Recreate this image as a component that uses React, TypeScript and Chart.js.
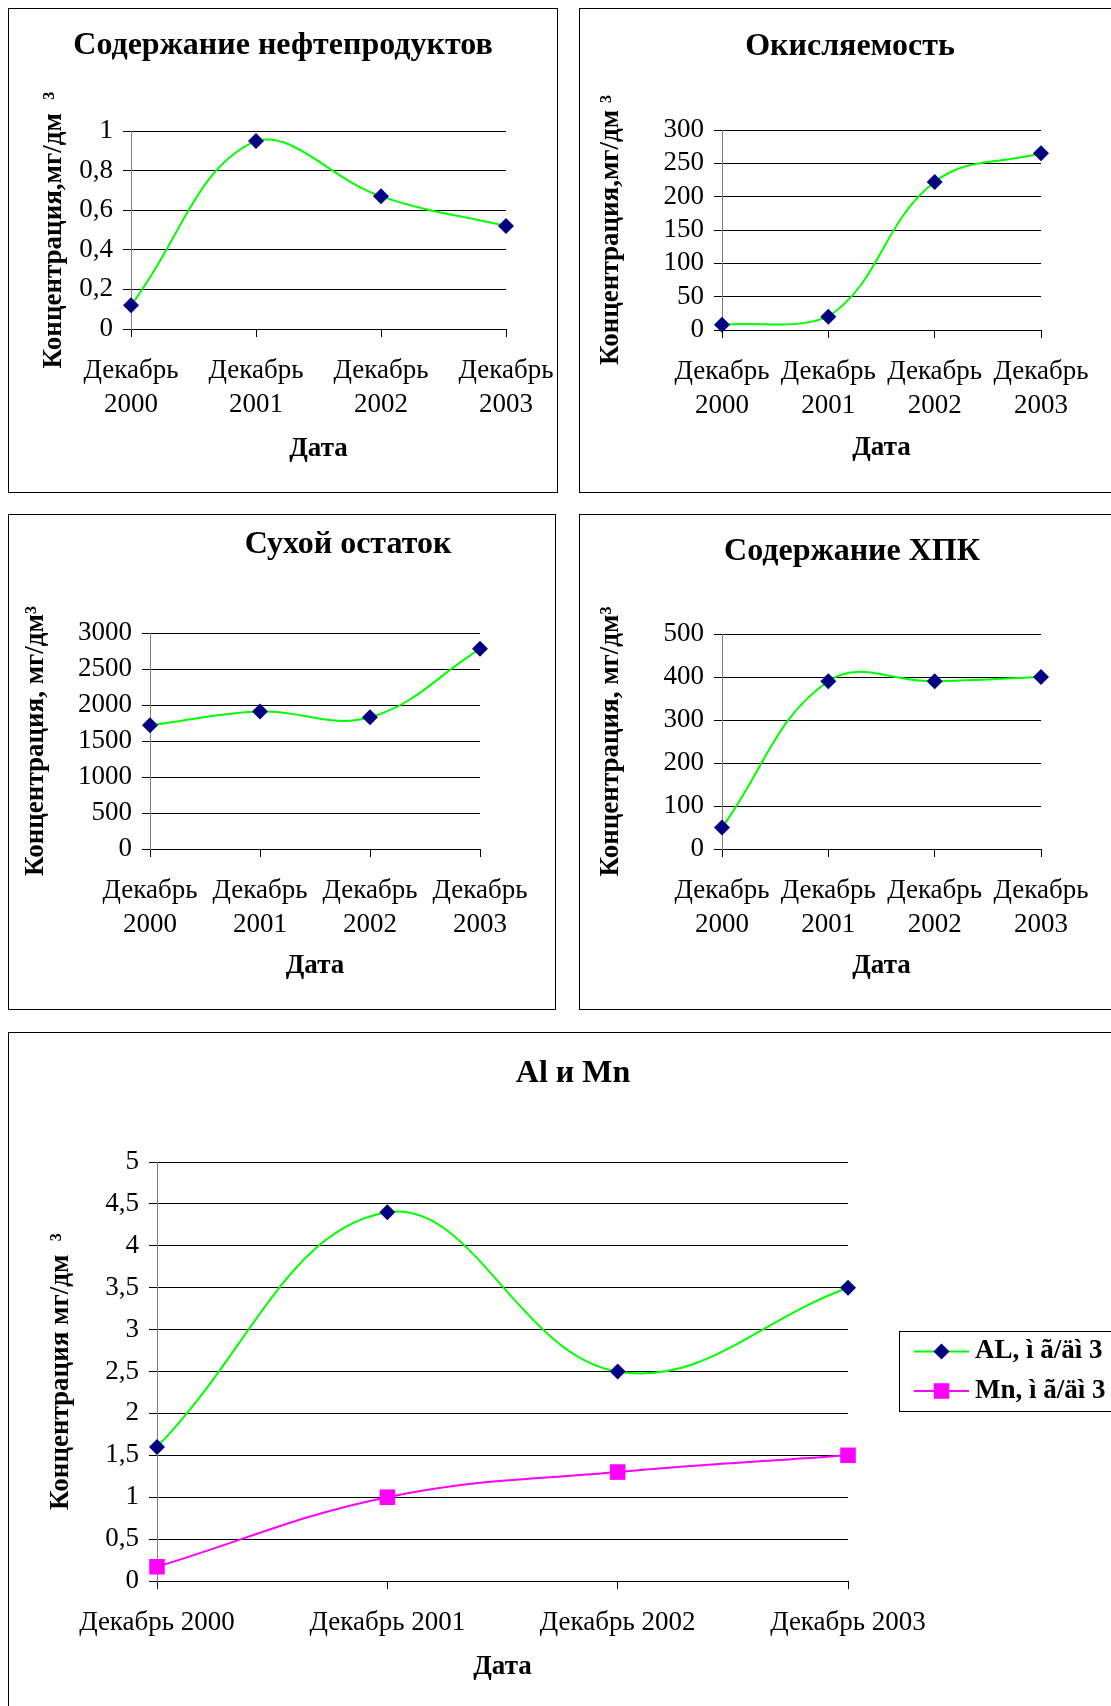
import React, { useEffect, useRef } from 'react';
import { Chart, registerables } from 'chart.js';

Chart.register(...registerables);

// ---------- DATA ----------
const categoryLabels = ['Декабрь 2000', 'Декабрь 2001', 'Декабрь 2002', 'Декабрь 2003'];
const oilProducts = [0.12, 0.95, 0.67, 0.52];
const oxidizability = [8, 20, 222, 265];
const dryResidue = [1720, 1910, 1830, 2780];
const codValues = [50, 390, 390, 400];
const alValues = [1.6, 4.4, 2.5, 3.5];
const mnValues = [0.17, 1.0, 1.3, 1.5];

const chartTitles = ['Содержание нефтепродуктов', 'Окисляемость', 'Сухой остаток', 'Содержание ХПК', 'Al и Mn'];
const yAxisTitles = [
  'Концентрация,мг/дм  ³',
  'Концентрация,мг/дм ³',
  'Концентрация, мг/дм³',
  'Концентрация, мг/дм³',
  'Концентрация мг/дм  ³',
];
const xAxisTitle = 'Дата';
const seriesLabels = ['AL, ì ã/äì 3', 'Mn, ì ã/äì 3'];
const yMaxValues = [1, 300, 3000, 500, 5];
const yStepValues = [0.2, 50, 500, 100, 0.5];

// ---------- STYLE ----------
const FONT = '"Liberation Serif", "Times New Roman", serif';
const TICK_SIZE = 27;
const AXIS_TITLE_SIZE = 27;
const TITLE_SIZE = 32;
const GREEN = '#00FF00';
const NAVY = '#000080';
const MAGENTA = '#FF00FF';

const fmt = (v: number) => String(Math.round(v * 100) / 100).replace('.', ',');

const titlePlugin = {
  id: 'panelTitle',
  afterDraw(chart: any, _args: any, opts: any) {
    if (!opts || !opts.text) return;
    const ctx = chart.ctx;
    ctx.save();
    ctx.font = `bold ${opts.size}px ${FONT}`;
    ctx.fillStyle = '#000';
    ctx.textAlign = 'center';
    ctx.textBaseline = 'middle';
    ctx.fillText(opts.text, opts.x, opts.y);
    ctx.restore();
  },
};

const legendPlugin = {
  id: 'panelLegend',
  afterDraw(chart: any, _args: any, opts: any) {
    if (!opts || !opts.show) return;
    const ctx = chart.ctx;
    ctx.save();
    ctx.strokeStyle = '#000';
    ctx.lineWidth = 1;
    ctx.strokeRect(opts.left + 0.5, opts.top + 0.5, opts.width, opts.height);
    chart.data.datasets.forEach((ds: any, i: number) => {
      const y = opts.rows[i];
      ctx.strokeStyle = ds.borderColor;
      ctx.lineWidth = 2;
      ctx.beginPath();
      ctx.moveTo(opts.lineStart, y);
      ctx.lineTo(opts.lineEnd, y);
      ctx.stroke();
      const mx = (opts.lineStart + opts.lineEnd) / 2;
      ctx.fillStyle = ds.pointBackgroundColor;
      ctx.beginPath();
      if (ds.pointStyle === 'rectRot') {
        const r = ds.pointRadius;
        ctx.moveTo(mx - r, y);
        ctx.lineTo(mx, y - r);
        ctx.lineTo(mx + r, y);
        ctx.lineTo(mx, y + r);
        ctx.closePath();
      } else {
        const s = ds.pointRadius * Math.SQRT1_2;
        ctx.rect(mx - s, y - s, 2 * s, 2 * s);
      }
      ctx.fill();
      ctx.fillStyle = '#000';
      ctx.font = `bold ${AXIS_TITLE_SIZE}px ${FONT}`;
      ctx.textAlign = 'left';
      ctx.textBaseline = 'middle';
      ctx.fillText(ds.label, opts.textX, y);
    });
    ctx.restore();
  },
};

type PanelCfg = {
  left: number;
  top: number;
  boxW: number;
  boxH: number;
  area: { l: number; t: number; r: number; b: number };
  title: string;
  titleX: number;
  titleY: number;
  yTitle: string;
  yTitleX: number;
  xTitleY: number;
  yMax: number;
  yStep: number;
  multiline: boolean;
  datasets: any[];
  legend?: any;
};

const greenSeries = (label: string, data: number[]) => ({
  label,
  data,
  borderColor: GREEN,
  borderWidth: 2,
  tension: 0.4,
  pointStyle: 'rectRot',
  pointRadius: 8,
  pointHoverRadius: 8,
  pointBackgroundColor: NAVY,
  pointBorderColor: NAVY,
  pointBorderWidth: 0,
  fill: false,
  clip: false,
});

const magentaSeries = (label: string, data: number[]) => ({
  label,
  data,
  borderColor: MAGENTA,
  borderWidth: 2,
  tension: 0.4,
  pointStyle: 'rect',
  pointRadius: 11,
  pointHoverRadius: 11,
  pointBackgroundColor: MAGENTA,
  pointBorderColor: MAGENTA,
  pointBorderWidth: 0,
  fill: false,
  clip: false,
});

const panels: PanelCfg[] = [
  {
    left: 8, top: 8, boxW: 550, boxH: 485,
    area: { l: 122, t: 122, r: 497, b: 320 },
    title: chartTitles[0], titleX: 274, titleY: 37,
    yTitle: yAxisTitles[0], yTitleX: 45, xTitleY: 440,
    yMax: yMaxValues[0], yStep: yStepValues[0], multiline: true,
    datasets: [greenSeries('', oilProducts)],
  },
  {
    left: 579, top: 8, boxW: 545, boxH: 485,
    area: { l: 142, t: 121, r: 461, b: 321 },
    title: chartTitles[1], titleX: 270, titleY: 38,
    yTitle: yAxisTitles[1], yTitleX: 31, xTitleY: 439,
    yMax: yMaxValues[1], yStep: yStepValues[1], multiline: true,
    datasets: [greenSeries('', oxidizability)],
  },
  {
    left: 8, top: 514, boxW: 548, boxH: 496,
    area: { l: 141, t: 118, r: 471, b: 334 },
    title: chartTitles[2], titleX: 339, titleY: 30,
    yTitle: yAxisTitles[2], yTitleX: 27, xTitleY: 451,
    yMax: yMaxValues[2], yStep: yStepValues[2], multiline: true,
    datasets: [greenSeries('', dryResidue)],
  },
  {
    left: 579, top: 514, boxW: 545, boxH: 496,
    area: { l: 142, t: 119, r: 461, b: 334 },
    title: chartTitles[3], titleX: 272, titleY: 37,
    yTitle: yAxisTitles[3], yTitleX: 31, xTitleY: 451,
    yMax: yMaxValues[3], yStep: yStepValues[3], multiline: true,
    datasets: [greenSeries('', codValues)],
  },
  {
    left: 8, top: 1032, boxW: 1115, boxH: 690,
    area: { l: 148, t: 129, r: 839, b: 548 },
    title: chartTitles[4], titleX: 564, titleY: 41,
    yTitle: yAxisTitles[4], yTitleX: 52, xTitleY: 634,
    yMax: yMaxValues[4], yStep: yStepValues[4], multiline: false,
    datasets: [greenSeries(seriesLabels[0], alValues), magentaSeries(seriesLabels[1], mnValues)],
    legend: {
      show: true, left: 890, top: 298, width: 240, height: 80,
      rows: [318.5, 358], lineStart: 905, lineEnd: 960, textX: 966,
    },
  },
];

function ChartPanel({ cfg }: { cfg: PanelCfg }) {
  const ref = useRef<HTMLCanvasElement>(null);
  const cw = cfg.boxW - 2;
  const ch = cfg.boxH - 2;
  useEffect(() => {
    const canvas = ref.current;
    if (!canvas) return;
    const { area } = cfg;
    const lh = AXIS_TITLE_SIZE * 1.2;
    const labels = cfg.multiline ? categoryLabels.map((s) => s.split(' ')) : categoryLabels;
    const chart = new Chart(canvas, {
      type: 'line',
      data: { labels, datasets: cfg.datasets },
      options: {
        responsive: false,
        animation: false,
        events: [],
        layout: { padding: { left: 0, top: area.t, right: cw - area.r, bottom: 0 } },
        plugins: {
          legend: { display: false },
          tooltip: { enabled: false },
          // @ts-ignore
          panelTitle: { text: cfg.title, x: cfg.titleX, y: cfg.titleY, size: TITLE_SIZE },
          // @ts-ignore
          panelLegend: cfg.legend || { show: false },
        },
        scales: {
          x: {
            type: 'category',
            offset: false,
            grid: {
              display: true,
              drawOnChartArea: false,
              drawTicks: true,
              tickLength: 8,
              color: '#000',
              lineWidth: 1,
            },
            border: { display: true, color: '#000', width: 1 },
            ticks: {
              autoSkip: false,
              maxRotation: 0,
              minRotation: 0,
              padding: 17,
              color: '#000',
              font: { family: FONT, size: TICK_SIZE, lineHeight: 1.25 },
            },
            title: {
              display: true,
              text: xAxisTitle,
              color: '#000',
              font: { family: FONT, size: AXIS_TITLE_SIZE, weight: 'bold', lineHeight: 1.2 },
              padding: { top: 0, bottom: ch - cfg.xTitleY - lh / 2 },
            },
            afterFit(scale: any) {
              scale.height = ch - area.b;
              scale.paddingLeft = 0;
              scale.paddingRight = 0;
            },
          },
          y: {
            type: 'linear',
            min: 0,
            max: cfg.yMax,
            grid: {
              display: true,
              drawTicks: true,
              tickLength: 8,
              color: '#000',
              lineWidth: 1,
            },
            border: { display: true, color: '#808080', width: 1 },
            ticks: {
              autoSkip: false,
              stepSize: cfg.yStep,
              padding: 10,
              color: '#000',
              font: { family: FONT, size: TICK_SIZE },
              callback: (v: any) => fmt(Number(v)),
            },
            title: {
              display: true,
              text: cfg.yTitle,
              color: '#000',
              font: { family: FONT, size: AXIS_TITLE_SIZE, weight: 'bold', lineHeight: 1.2 },
              padding: { top: cfg.yTitleX - lh / 2, bottom: 0 },
            },
            afterFit(scale: any) {
              scale.width = area.l;
              scale.paddingTop = 0;
              scale.paddingBottom = 0;
            },
          },
        },
      } as any,
      plugins: [titlePlugin, legendPlugin],
    });
    return () => chart.destroy();
  }, []);
  return (
    <div
      style={{
        position: 'absolute',
        left: cfg.left,
        top: cfg.top,
        width: cfg.boxW,
        height: cfg.boxH,
        border: '1px solid #000',
        boxSizing: 'border-box',
        background: '#fff',
      }}
    >
      <canvas ref={ref} width={cw} height={ch} style={{ display: 'block', width: cw, height: ch }} />
    </div>
  );
}

export default function App() {
  return (
    <div
      style={{
        position: 'absolute',
        left: 0,
        top: 0,
        width: 1111,
        height: 1706,
        overflow: 'hidden',
        background: '#fff',
      }}
    >
      {panels.map((p, i) => (
        <ChartPanel key={i} cfg={p} />
      ))}
    </div>
  );
}
